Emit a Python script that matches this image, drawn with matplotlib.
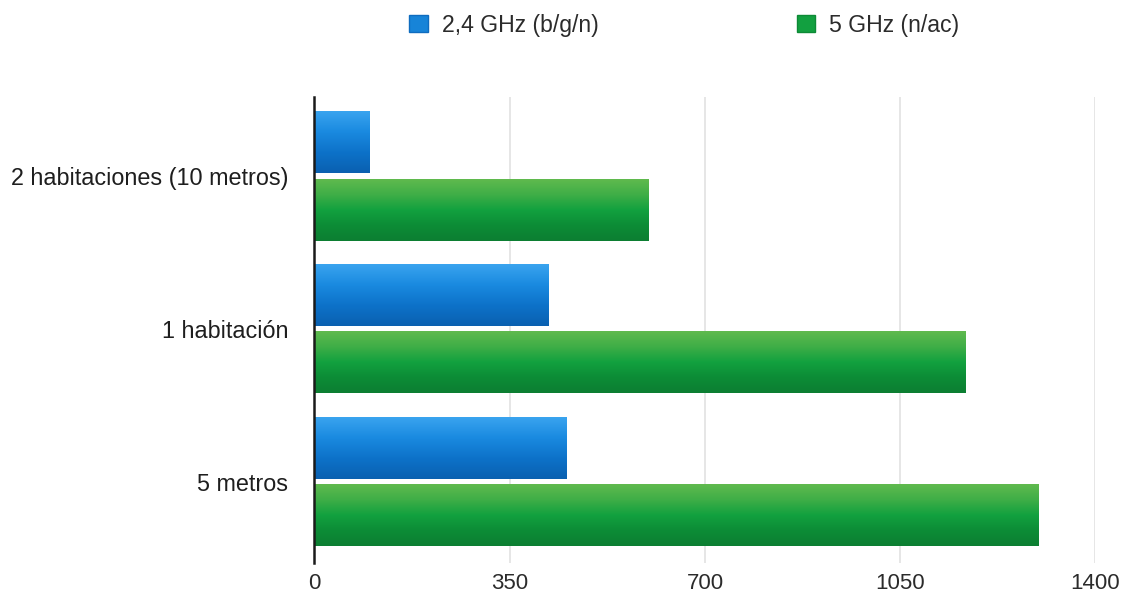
import numpy as np
import matplotlib
matplotlib.use("Agg")
import matplotlib.pyplot as plt
from matplotlib.colors import LinearSegmentedColormap
from matplotlib.patches import Patch

plt.rcParams['font.family'] = ['Liberation Sans', 'DejaVu Sans']

categories = ["2 habitaciones (10 metros)", "1 habitación", "5 metros"]
series_names = ["2,4 GHz (b/g/n)", "5 GHz (n/ac)"]
ghz_24 = [100, 421, 452]
ghz_5 = [600, 1168, 1299]
x_ticks = [0, 350, 700, 1050, 1400]

# top -> bottom shading of each bar
blue_shade = LinearSegmentedColormap.from_list(
    "blue_shade", ["#3aa4ef", "#1a8ae0", "#0d72c9", "#0a60b0"])
green_shade = LinearSegmentedColormap.from_list(
    "green_shade", ["#60ba4e", "#3fae47", "#12a13f", "#0c8c36", "#0d7e32"])

fig = plt.figure(figsize=(11.27, 5.98), dpi=100)
ax = fig.add_axes([0.279, 0.0585, 0.693, 0.7793])

y = np.arange(len(categories))
bar_h = 0.4
off = 0.22
bars_b = ax.barh(y - off, ghz_24, height=bar_h, color="none", zorder=3)
bars_g = ax.barh(y + off, ghz_5, height=bar_h, color="none", zorder=3)

grad = np.linspace(0, 1, 256).reshape(-1, 1)
for bars, cmap in ((bars_b, blue_shade), (bars_g, green_shade)):
    for p in bars.patches:
        x0, y0 = p.get_x(), p.get_y()
        w, h = p.get_width(), p.get_height()
        ax.imshow(grad, cmap=cmap, aspect="auto", origin="upper",
                  extent=[x0, x0 + w, y0 + h, y0], zorder=3)

ax.set_xlim(0, 1400)
ax.set_ylim(2.53, -0.52)
ax.set_xticks(x_ticks)
ax.set_xticklabels([str(t) for t in x_ticks])
ax.set_yticks(y)
ax.set_yticklabels(categories)
ax.tick_params(axis="x", length=0, pad=7, labelsize=16, labelcolor="#2b2b2b")
ax.tick_params(axis="y", length=0, pad=19, labelsize=16.8, labelcolor="#1e1e1e")

ax.grid(axis="x", color="#e2e2e2", linewidth=1.2, zorder=0)
ax.set_axisbelow(True)
for side in ("top", "right", "bottom"):
    ax.spines[side].set_visible(False)
ax.spines["left"].set_color("#1a1a1a")
ax.spines["left"].set_linewidth(1.8)
ax.spines["left"].set_zorder(4)

handles = [Patch(facecolor="#1784d8", edgecolor="#0f6cbf"),
           Patch(facecolor="#12a040", edgecolor="#0d8a36")]
fig.legend(handles, series_names, loc="center", ncol=2,
           bbox_to_anchor=(0.607, 0.958), frameon=False, fontsize=16.6,
           handlelength=0.8, handleheight=0.8, handletextpad=0.6,
           columnspacing=8.6, labelcolor="#2b2b2b")

fig.savefig("out.png", dpi=100, facecolor="white")
